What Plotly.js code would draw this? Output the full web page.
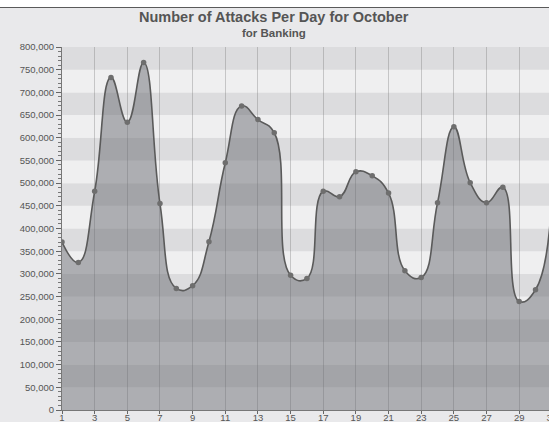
<!DOCTYPE html>
<html>
<head>
<meta charset="utf-8">
<script src="https://cdn.plot.ly/plotly-3.0.1.min.js"></script>
<style>
  html, body { margin: 0; padding: 0; width: 549px; height: 422px; overflow: hidden; background: #ffffff; }
  #rule { position: absolute; left: 0; top: 7px; width: 549px; height: 1px; background: #5a5a5a; }
  #chart { position: absolute; left: 0; top: 8px; }
</style>
</head>
<body>
<div id="rule"></div>
<div id="chart"></div>
<script>
// Daily attack counts, October, banking sector
const days = [1, 2, 3, 4, 5, 6, 7, 8, 9, 10, 11, 12, 13, 14, 15, 16,
              17, 18, 19, 20, 21, 22, 23, 24, 25, 26, 27, 28, 29, 30, 31];
const attacks = [370000, 325000, 482000, 733000, 634000, 766000, 455000, 268000,
                 274000, 371000, 545000, 670000, 640000, 611000, 297000, 290000,
                 482000, 470000, 525000, 516000, 478000, 307000, 292000, 457000,
                 624000, 501000, 457000, 491000, 239000, 265000, 470000];

const yMax = 800000;
const bandStep = 50000;
const xTickVals = [1, 3, 5, 7, 9, 11, 13, 15, 17, 19, 21, 23, 25, 27, 29, 31];

// alternating horizontal bands behind the gridlines
const bands = [];
for (let lo = 0; lo < yMax; lo += bandStep) {
  const odd = Math.round(lo / bandStep) % 2 === 1;
  bands.push({
    type: 'rect', layer: 'below', xref: 'paper', yref: 'y',
    x0: 0, x1: 1, y0: lo, y1: lo + bandStep,
    fillcolor: odd ? '#dcdcde' : '#efeff0', line: { width: 0 }
  });
}

const trace = {
  x: days, y: attacks,
  type: 'scatter', mode: 'lines+markers',
  line: { shape: 'spline', smoothing: 1.3, color: '#5a5a5a', width: 1.6 },
  marker: { size: 5.5, color: '#6e6e6e' },
  fill: 'tozeroy', fillcolor: 'rgba(100,103,108,0.47)',
  hoverinfo: 'x+y'
};

const tickFont = { family: 'Liberation Sans, Arial, sans-serif', size: 9.5, color: '#555555' };

const layout = {
  width: 560, height: 414,
  margin: { l: 62, r: 0, t: 39, b: 12, pad: 0 },
  paper_bgcolor: '#e9e9eb',
  plot_bgcolor: '#efeff0',
  showlegend: false,
  shapes: bands,
  xaxis: {
    range: [1, 31.5], tickmode: 'array', tickvals: xTickVals,
    ticks: 'outside', ticklen: 3, tickcolor: '#666', tickfont: tickFont,
    ticklabelstandoff: -4,
    showgrid: true, gridcolor: 'rgba(110,110,110,0.32)', gridwidth: 1,
    showline: true, linecolor: '#777', linewidth: 1,
    zeroline: false, fixedrange: true
  },
  yaxis: {
    range: [0, yMax], tickmode: 'linear', tick0: 0, dtick: 50000,
    tickformat: ',d', ticks: 'outside', ticklen: 5, tickcolor: '#666',
    minor: { dtick: 10000, ticks: 'outside', ticklen: 3, tickcolor: '#777', showgrid: false },
    tickfont: tickFont, showgrid: false,
    showline: true, linecolor: '#777', linewidth: 1,
    zeroline: false, fixedrange: true
  },
  annotations: [
    { text: 'Number of Attacks Per Day for October', xref: 'paper', yref: 'paper',
      x: 0.4257, y: 1.0826, xanchor: 'center', yanchor: 'middle', showarrow: false,
      font: { family: 'Liberation Sans, Arial, sans-serif', size: 14.5, color: '#555555', weight: 'bold' } },
    { text: 'for Banking', xref: 'paper', yref: 'paper',
      x: 0.4257, y: 1.0386, xanchor: 'center', yanchor: 'middle', showarrow: false,
      font: { family: 'Liberation Sans, Arial, sans-serif', size: 11.5, color: '#555555', weight: 'bold' } }
  ]
};

Plotly.newPlot('chart', [trace], layout, { displayModeBar: false, staticPlot: true });
</script>
</body>
</html>
